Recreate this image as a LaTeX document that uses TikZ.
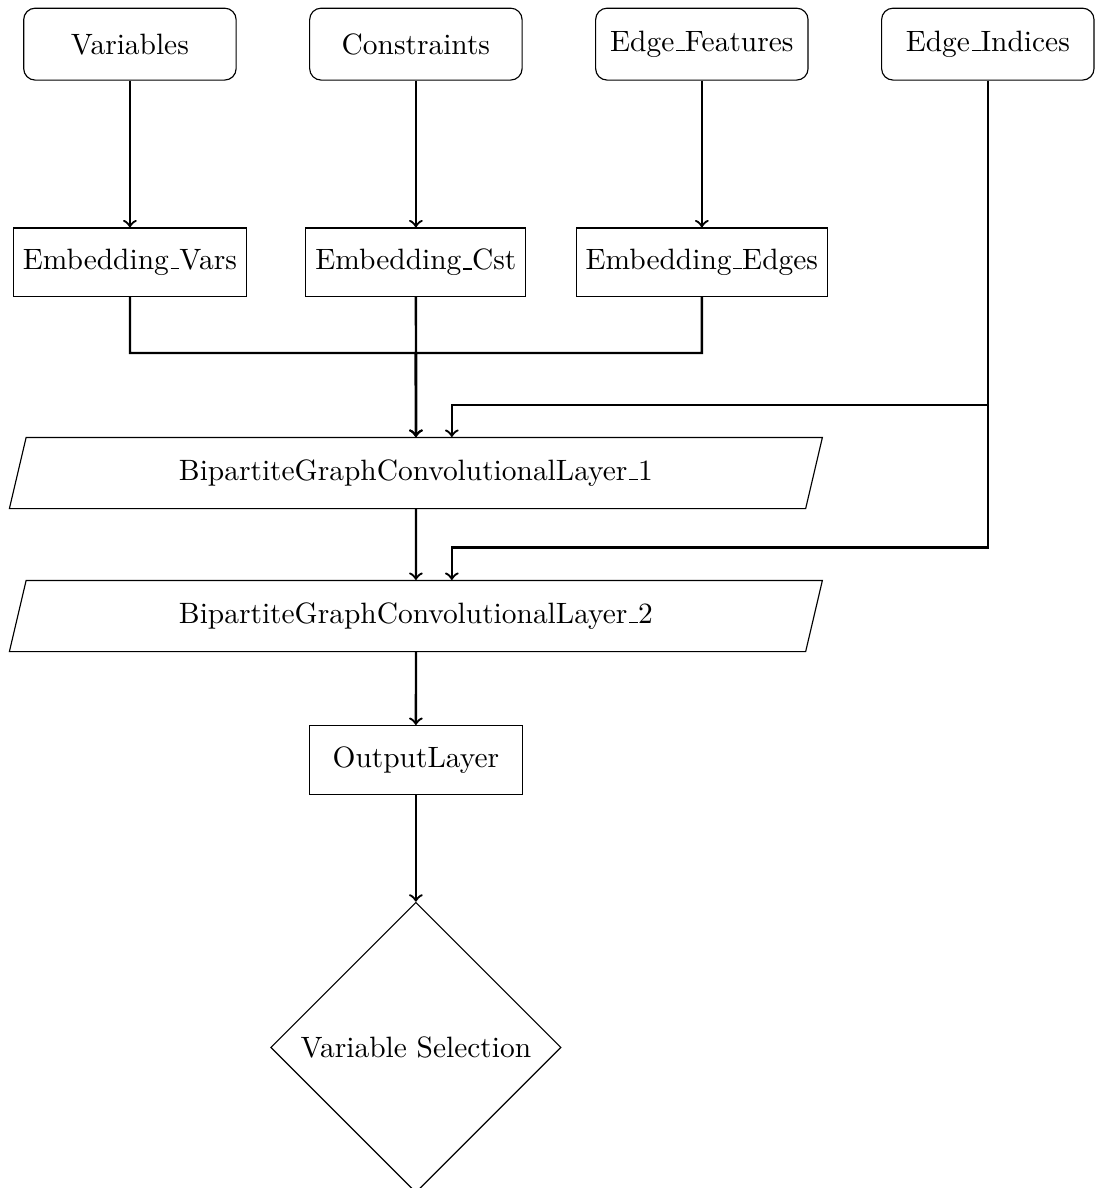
\documentclass[tikz,border=0pt]{standalone}
\usepackage{tikz}
\usetikzlibrary{shapes,arrows,positioning,calc}
\newcommand{\lowbar}{\leavevmode\kern.06em\vbox{\hrule width.3em}}

\begin{document}
\begin{tikzpicture}[
    every node/.style={font=\fontsize{10.25}{12.3}\selectfont},
    inputbox/.style={rectangle, rounded corners, draw, minimum width=2.6cm, minimum height=0.88cm},
    layerbox/.style={rectangle, draw, minimum width=2.6cm, minimum height=0.84cm},
    convbox/.style={trapezium, trapezium left angle=70, trapezium right angle=110, trapezium stretches body, draw, minimum width=9.95cm, minimum height=0.87cm},
    decisionbox/.style={diamond, draw},
    flow/.style={->, thick}]
    \useasboundingbox (-1.59,0.54) rectangle (11.80,-14.0);

    \node[inputbox] (vars) at (0,0) {Variables};
    \node[inputbox] (cons) at (3.5,0) {Constraints};
    \node[inputbox] (efeat) at (7,0) {Edge\lowbar Features};
    \node[inputbox] (eidx) at (10.5,0) {Edge\lowbar Indices};

    \node[layerbox] (embvars) at (0,-2.67) {Embedding\lowbar Vars};
    \node[layerbox] (embcst) at (3.5,-2.67) {Embedding\lowbar Cst};
    \node[layerbox] (embedges) at (7,-2.67) {Embedding\lowbar Edges};

    \node[convbox] (bgc1) at (3.5,-5.25) {BipartiteGraphConvolutionalLayer\lowbar 1};
    \node[convbox] (bgc2) at (3.5,-7.0) {BipartiteGraphConvolutionalLayer\lowbar 2};
    \node[layerbox] (out) at (3.5,-8.76) {OutputLayer};
    \node[decisionbox] (select) at (3.5,-12.28) {Variable Selection};

    \coordinate (join) at (3.5,-3.78);
    \coordinate (idx1) at (3.94,-4.42);
    \coordinate (idx2) at (3.94,-6.16);

    \draw[flow] (vars) -- (embvars);
    \draw[flow] (cons) -- (embcst);
    \draw[flow] (efeat) -- (embedges);

    \draw[flow] (embvars) |- (join) -- (bgc1);
    \draw[flow] (embcst) -- (bgc1);
    \draw[flow] (embedges) |- (join) -- (bgc1);

    \draw[flow] (eidx) |- (idx1) -- (idx1 |- bgc1.north);
    \draw[flow] (eidx) |- (idx2) -- (idx2 |- bgc2.north);

    \draw[flow] (bgc1) -- (bgc2);
    \draw[flow] (bgc2) -- (out);
    \draw[flow] (out) -- (select);
\end{tikzpicture}
\end{document}
